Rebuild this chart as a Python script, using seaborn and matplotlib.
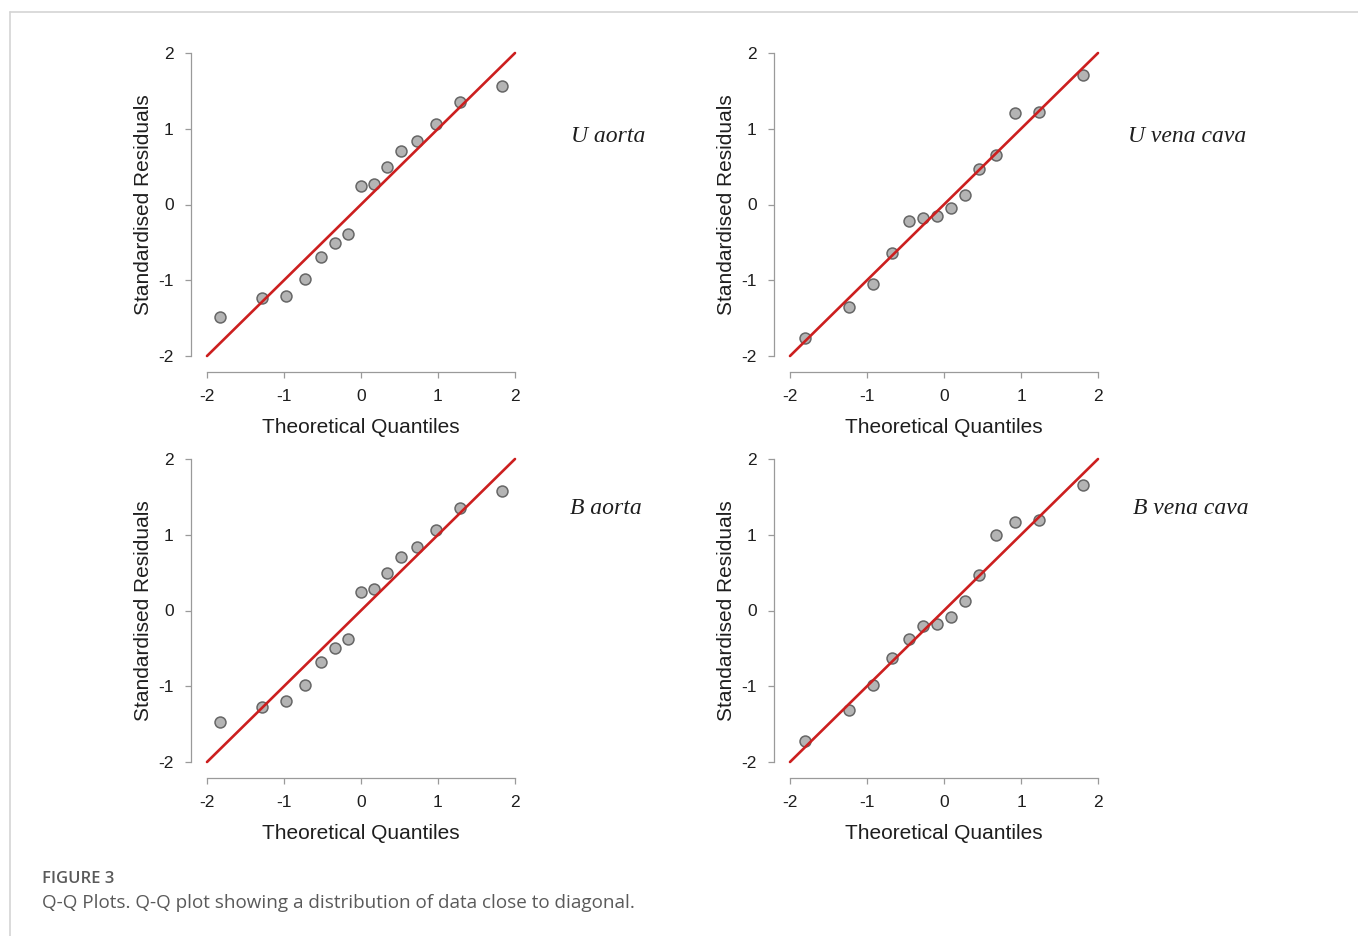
import numpy as np
import pandas as pd
import matplotlib
matplotlib.use("Agg")
import matplotlib.pyplot as plt
from matplotlib.lines import Line2D
import seaborn as sns

# ---- data ----
quantiles_15 = [-1.83, -1.28, -0.97, -0.73, -0.52, -0.34, -0.17, 0.00,
                0.17, 0.34, 0.52, 0.73, 0.97, 1.28, 1.83]
quantiles_14 = [-1.80, -1.24, -0.92, -0.67, -0.46, -0.27, -0.09,
                0.09, 0.27, 0.46, 0.67, 0.92, 1.24, 1.80]

u_aorta = [-1.49, -1.24, -1.21, -0.99, -0.69, -0.51, -0.385, 0.24,
           0.275, 0.49, 0.70, 0.84, 1.06, 1.35, 1.57]
u_vena_cava = [-1.76, -1.35, -1.045, -0.645, -0.22, -0.18, -0.15,
               -0.04, 0.13, 0.47, 0.66, 1.21, 1.22, 1.71]
b_aorta = [-1.47, -1.28, -1.195, -0.98, -0.68, -0.49, -0.38, 0.24,
           0.29, 0.50, 0.71, 0.84, 1.06, 1.35, 1.58]
b_vena_cava = [-1.72, -1.32, -0.99, -0.63, -0.37, -0.205, -0.18,
               -0.09, 0.125, 0.47, 1.00, 1.17, 1.19, 1.66]

panel_titles = ["U aorta", "U vena cava", "B aorta", "B vena cava"]
ticks = [-2, -1, 0, 1, 2]
tick_labels = ["-2", "-1", "0", "1", "2"]
ref_line = [-2, 2]

x_label = "Theoretical Quantiles"
y_label = "Standardised Residuals"
caption_head = "FIGURE 3"
caption_text = "Q-Q Plots. Q-Q plot showing a distribution of data close to diagonal."

panels = [
    (quantiles_15, u_aorta),
    (quantiles_14, u_vena_cava),
    (quantiles_15, b_aorta),
    (quantiles_14, b_vena_cava),
]

# ---- styling ----
sns.set_style("white")
plt.rcParams["font.family"] = ["Liberation Sans", "DejaVu Sans"]

W, H = 1358, 936
fig = plt.figure(figsize=(W / 100, H / 100), dpi=100)
fig.patch.set_facecolor("white")

# panel boxes in pixels (left, top, right, bottom) of the -2..2 data square
boxes = [
    (207, 53, 515, 356),
    (790, 53, 1098, 356),
    (207, 459, 515, 762),
    (790, 459, 1098, 762),
]
title_pos = [(571, 137), (1128, 137), (570, 508), (1133, 508)]

spine_col = "#9a9a9a"
text_col = "#1e1e1e"

for (qx, res), (l, t, r, b), title, (tx, ty) in zip(panels, boxes, panel_titles, title_pos):
    ax = fig.add_axes([l / W, 1 - b / H, (r - l) / W, (b - t) / H])
    df = pd.DataFrame({"q": qx, "res": res})
    line_df = pd.DataFrame({"x": ref_line, "y": ref_line})
    sns.lineplot(data=line_df, x="x", y="y", ax=ax, color="#cc1f1f",
                 linewidth=1.9, zorder=3)
    ax.lines[-1].set_clip_on(False)
    sns.scatterplot(data=df, x="q", y="res", ax=ax, s=62, color="#b4b4b4",
                    edgecolor="#666666", linewidth=1.1, zorder=2, clip_on=False)
    ax.set_xlim(-2, 2)
    ax.set_ylim(-2, 2)
    ax.set_xticks(ticks)
    ax.set_xticklabels(tick_labels)
    ax.set_yticks(ticks)
    ax.set_yticklabels(tick_labels)
    for side in ["top", "right"]:
        ax.spines[side].set_visible(False)
    for side in ["left", "bottom"]:
        ax.spines[side].set_position(("outward", 11.5))
        ax.spines[side].set_bounds(-2, 2)
        ax.spines[side].set_color(spine_col)
        ax.spines[side].set_linewidth(0.9)
    ax.tick_params(axis="both", which="major", bottom=True, left=True,
                   direction="out", length=4.5, width=0.9,
                   color=spine_col, labelsize=12.5, labelcolor=text_col)
    ax.tick_params(axis="y", pad=8)
    ax.tick_params(axis="x", pad=8)
    ax.set_xlabel(x_label, fontsize=15, color=text_col, labelpad=9.5)
    ax.set_ylabel(y_label, fontsize=15, color=text_col, labelpad=4)
    ax.set_facecolor("none")
    fig.text(tx / W, 1 - ty / H, title, fontsize=17, style="italic",
             family=["Liberation Serif", "DejaVu Serif"], color=text_col,
             ha="left", va="center")

# page frame (top and left rules)
frame_col = "#d4d4d4"
fig.add_artist(Line2D([10 / W, 1], [1 - 12 / H, 1 - 12 / H],
                      color=frame_col, linewidth=1.2, transform=fig.transFigure))
fig.add_artist(Line2D([10 / W, 10 / W], [0, 1 - 12 / H],
                      color=frame_col, linewidth=1.2, transform=fig.transFigure))

# caption
fig.text(42 / W, 1 - 879 / H, caption_head, fontsize=12, fontweight="semibold",
         family=["Open Sans", "DejaVu Sans"], color="#5a5a5a", ha="left", va="center")
fig.text(42 / W, 1 - 903 / H, caption_text, fontsize=13.6,
         family=["Open Sans", "DejaVu Sans"], color="#5a5a5a", ha="left", va="center")

fig.savefig("out.png", dpi=100, facecolor="white")
